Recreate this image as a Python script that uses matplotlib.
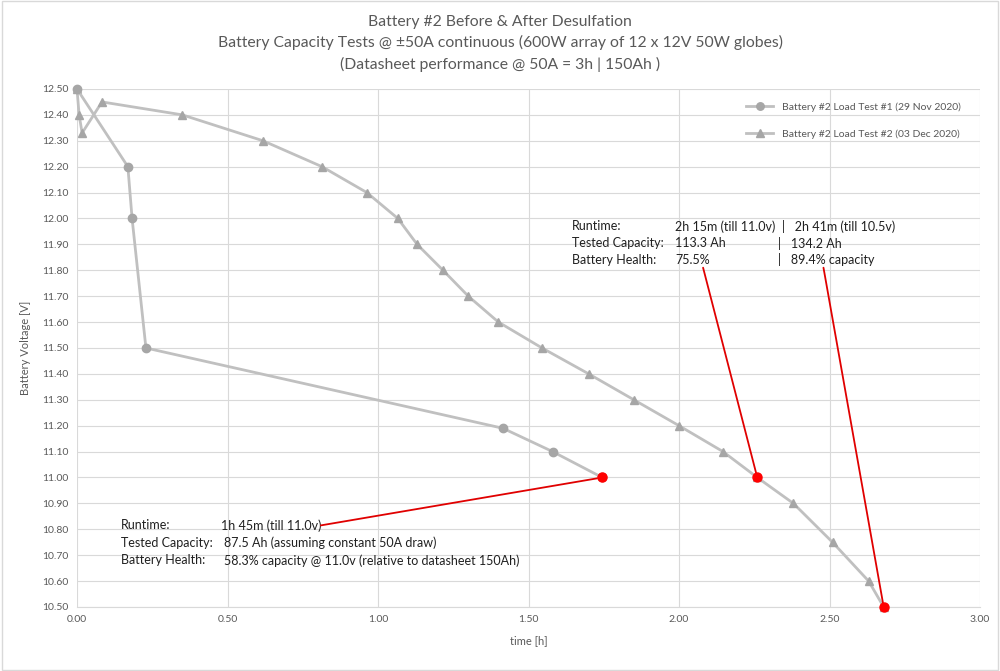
import matplotlib.pyplot as plt

# ── DADOS ─────────────────────────────────────────────────────────────────────
t1 = [0.0, 0.169, 0.183, 0.229, 1.415, 1.58, 1.745]
v1 = [12.50, 12.20, 12.00, 11.50, 11.19, 11.10, 11.00]

t2 = [0.0, 0.007, 0.017, 0.083, 0.35, 0.618, 0.814, 0.963, 1.066, 1.13, 1.216,
      1.30, 1.40, 1.545, 1.70, 1.85, 2.00, 2.146, 2.26, 2.38, 2.51, 2.63, 2.68]
v2 = [12.50, 12.40, 12.33, 12.45, 12.40, 12.30, 12.20, 12.10, 12.00, 11.90, 11.80,
      11.70, 11.60, 11.50, 11.40, 11.30, 11.20, 11.10, 11.00, 10.90, 10.75, 10.60, 10.50]

red_t = [1.745, 2.26, 2.68]
red_v = [11.00, 11.00, 10.50]

label1 = 'Battery #2 Load Test #1 (29 Nov 2020)'
label2 = 'Battery #2 Load Test #2 (03 Dec 2020)'

titulo = ('Battery #2 Before & After Desulfation\n'
          'Battery Capacity Tests @ \u00b150A continuous (600W array of 12 x 12V 50W globes)\n'
          '(Datasheet performance @ 50A = 3h | 150Ah )')

# ── ESTILO ────────────────────────────────────────────────────────────────────
plt.rcParams['font.family'] = ['Lato', 'DejaVu Sans']
CINZA_TXT = '#595959'
CINZA_LINHA = '#c0c0c0'
CINZA_MARK = '#a6a6a6'
GRADE = '#d9d9d9'

fig = plt.figure(figsize=(10, 6.71), dpi=100)
ax = fig.add_axes([0.077, 0.0954, 0.903, 0.772])

ax.plot(t2, v2, color=CINZA_LINHA, lw=2.0, marker='^', ms=6,
        mfc=CINZA_MARK, mec=CINZA_MARK, label=label2, zorder=3, clip_on=False)
ax.plot(t1, v1, color=CINZA_LINHA, lw=2.0, marker='o', ms=6,
        mfc=CINZA_MARK, mec=CINZA_MARK, label=label1, zorder=4, clip_on=False)
ax.plot(red_t, red_v, ls='none', marker='o', ms=6.5, color='#ff0000', zorder=5, clip_on=False)

ax.set_xlim(0, 3)
ax.set_ylim(10.5, 12.5)
ax.set_xticks([0, 0.5, 1.0, 1.5, 2.0, 2.5, 3.0])
ax.set_yticks([10.5 + 0.1 * i for i in range(21)])
ax.xaxis.set_major_formatter(plt.FormatStrFormatter('%.2f'))
ax.yaxis.set_major_formatter(plt.FormatStrFormatter('%.2f'))
ax.tick_params(length=0, labelsize=7.5, colors=CINZA_TXT, pad=6)
ax.grid(True, color=GRADE, lw=0.8)
ax.set_axisbelow(True)
for s in ['top', 'right', 'left']:
    ax.spines[s].set_visible(False)
ax.spines['bottom'].set_color(GRADE)

ax.set_xlabel('time [h]', fontsize=8, color=CINZA_TXT, labelpad=8)
ax.set_ylabel('Battery Voltage [V]', fontsize=8, color=CINZA_TXT, labelpad=8)

fig.suptitle(titulo, y=0.978, fontsize=11.3, color=CINZA_TXT, linespacing=1.55)

# legenda na ordem do original (teste #1 em cima)
handles, labels = ax.get_legend_handles_labels()
ax.legend(handles[::-1], labels[::-1], loc='upper right', bbox_to_anchor=(0.97, 0.862),
          bbox_transform=fig.transFigure, frameon=False, fontsize=7.5,
          labelcolor=CINZA_TXT, labelspacing=1.7, handlelength=2.6, markerscale=0.9)

# ── ANOTAÇÕES ─────────────────────────────────────────────────────────────────
fs = 9
tx = dict(fontsize=fs, color='#202020', va='center')

# bloco inferior (teste #1)
ax.text(0.145, 10.815, 'Runtime:', **tx)
ax.text(0.477, 10.815, '1h 45m (till 11.0v)', **tx)
ax.text(0.145, 10.747, 'Tested Capacity:', **tx)
ax.text(0.487, 10.747, '87.5 Ah (assuming constant 50A draw)', **tx)
ax.text(0.145, 10.68, 'Battery Health:', **tx)
ax.text(0.487, 10.68, '58.3% capacity @ 11.0v (relative to datasheet 150Ah)', **tx)

# bloco superior (teste #2)
ax.text(1.645, 11.97, 'Runtime:', **tx)
ax.text(1.987, 11.97, '2h 15m (till 11.0v)  |   2h 41m (till 10.5v)', **tx)
ax.text(1.645, 11.905, 'Tested Capacity:', **tx)
ax.text(1.987, 11.905, '113.3 Ah', **tx)
ax.text(2.33, 11.905, '|   134.2 Ah', **tx)
ax.text(1.645, 11.84, 'Battery Health:', **tx)
ax.text(1.987, 11.84, '75.5%', **tx)
ax.text(2.33, 11.84, '|   89.4% capacity', **tx)

linha = dict(arrowstyle='-', color='#e00000', lw=1.3, shrinkA=0, shrinkB=0)
ax.annotate('', xy=(red_t[0], red_v[0]), xytext=(0.81, 10.815), arrowprops=linha)
ax.annotate('', xy=(red_t[1], red_v[1]), xytext=(2.08, 11.81), arrowprops=linha)
ax.annotate('', xy=(red_t[2], red_v[2]), xytext=(2.48, 11.81), arrowprops=linha)

# moldura do gráfico
fig.patches.append(plt.Rectangle((0.002, 0.002), 0.996, 0.996, transform=fig.transFigure,
                                 fill=False, ec='#d9d9d9', lw=1.0))

plt.savefig('out.png', dpi=100)
